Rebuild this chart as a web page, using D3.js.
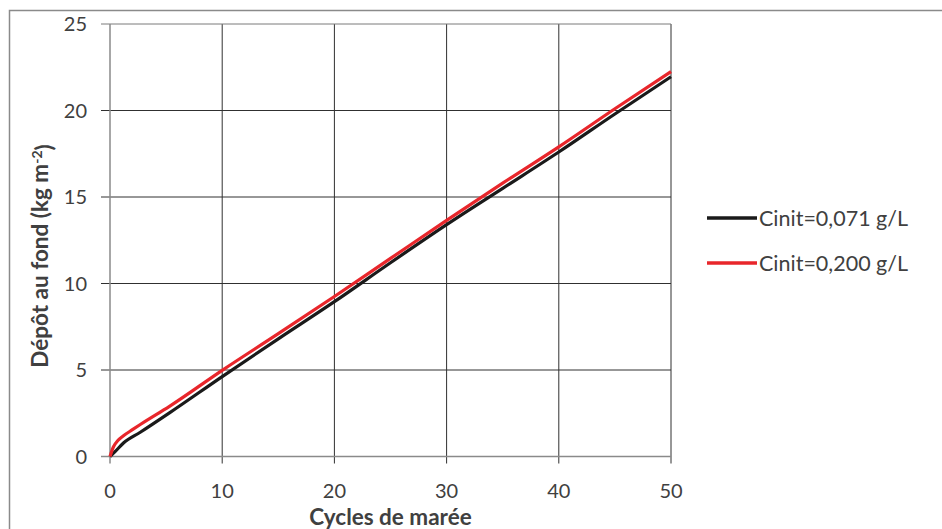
<!DOCTYPE html>
<html>
<head>
<meta charset="utf-8">
<script src="https://cdn.jsdelivr.net/npm/d3@7"></script>
<style>
  body { margin: 0; background: #fff; }
  text { font-family: Lato, "Open Sans", sans-serif; fill: #404040; }
</style>
</head>
<body>
<script>
// valeurs (cycles de marée -> dépôt kg m-2)
const cycles071 = [0, 0.45, 1.2, 2.7, 5.3, 10, 15, 20, 25, 30, 35, 40, 45, 50];
const depot071  = [0, 0.28, 0.78, 1.4, 2.52, 4.62, 6.8, 8.95, 11.2, 13.4, 15.5, 17.6, 19.8, 21.95];

const cycles200 = [0, 0.3, 0.7, 1.2, 2, 2.7, 5.3, 10, 15, 20, 25, 30, 35, 40, 45, 50];
const depot200  = [0, 0.55, 0.92, 1.2, 1.55, 1.85, 2.9, 4.98, 7.1, 9.25, 11.45, 13.65, 15.8, 17.9, 20.1, 22.25];

const seriesNames = ["Cinit=0,071 g/L", "Cinit=0,200 g/L"];
const seriesColors = ["#1a1a1a", "#e8262b"];
const xTicks = [0, 10, 20, 30, 40, 50];
const yTicks = [0, 5, 10, 15, 20, 25];

const width = 942, height = 529;
const plotLeft = 110, plotRight = 671, plotTop = 24, plotBottom = 456.5;

const svg = d3.select("body").append("svg")
  .attr("width", width)
  .attr("height", height);

// cadre extérieur
svg.append("rect")
  .attr("x", 9.5).attr("y", 10.5)
  .attr("width", 1000).attr("height", 600)
  .attr("fill", "none")
  .attr("stroke", "#8a8a8a")
  .attr("stroke-width", 1.5);

const x = d3.scaleLinear().domain([0, 50]).range([plotLeft, plotRight]);
const y = d3.scaleLinear().domain([0, 25]).range([plotBottom, plotTop]);

// grille
svg.append("g").selectAll("line")
  .data(xTicks.slice(1))
  .enter().append("line")
  .attr("x1", d => x(d)).attr("x2", d => x(d))
  .attr("y1", plotTop).attr("y2", plotBottom + 7)
  .attr("stroke", "#303030").attr("stroke-width", 1);

svg.append("g").selectAll("line")
  .data(yTicks.slice(1))
  .enter().append("line")
  .attr("x1", plotLeft - 9).attr("x2", plotRight)
  .attr("y1", d => y(d)).attr("y2", d => y(d))
  .attr("stroke", d => d === 25 ? "#7a7a7a" : "#303030").attr("stroke-width", 1);

// axes
svg.append("line")
  .attr("x1", plotLeft).attr("x2", plotLeft).attr("y1", plotTop).attr("y2", plotBottom + 7)
  .attr("stroke", "#8a8a8a").attr("stroke-width", 1.5);
svg.append("line")
  .attr("x1", plotLeft - 9).attr("x2", plotRight).attr("y1", plotBottom).attr("y2", plotBottom)
  .attr("stroke", "#8a8a8a").attr("stroke-width", 1.5);

// étiquettes des graduations
svg.append("g").selectAll("text")
  .data(yTicks)
  .enter().append("text")
  .attr("x", 87).attr("y", d => y(d))
  .attr("dy", "0.36em")
  .attr("text-anchor", "end")
  .style("font-size", "20px")
  .text(d => d);

svg.append("g").selectAll("text")
  .data(xTicks)
  .enter().append("text")
  .attr("x", d => x(d)).attr("y", 498)
  .attr("text-anchor", "middle")
  .style("font-size", "20px")
  .text(d => d);

// titres des axes
svg.append("text")
  .attr("x", (plotLeft + plotRight) / 2).attr("y", 525)
  .attr("text-anchor", "middle")
  .style("font-size", "22.5px").style("font-weight", "bold")
  .text("Cycles de marée");

const yTitle = svg.append("text")
  .attr("transform", "translate(48," + 256 + ") rotate(-90)")
  .attr("text-anchor", "middle")
  .style("font-size", "22.5px").style("font-weight", "bold");
yTitle.append("tspan").text("Dépôt au fond (kg m");
yTitle.append("tspan").attr("dy", "-0.45em").style("font-size", "14px").text("-2");
yTitle.append("tspan").attr("dy", "0.45em").text(")");

// courbes
const line = d3.line()
  .x(d => x(d[0])).y(d => y(d[1]))
  .curve(d3.curveMonotoneX);
const data = [
  cycles071.map((c, i) => [c, depot071[i]]),
  cycles200.map((c, i) => [c, depot200[i]])
];

svg.append("g").selectAll("path")
  .data(data)
  .enter().append("path")
  .attr("d", line)
  .attr("fill", "none")
  .attr("stroke", (d, i) => seriesColors[i])
  .attr("stroke-width", 3.2)
  .attr("stroke-linejoin", "round");

// légende
const legend = svg.append("g").selectAll("g")
  .data(seriesNames)
  .enter().append("g")
  .attr("transform", (d, i) => "translate(0," + (218 + i * 45) + ")");

legend.append("line")
  .attr("x1", 707).attr("x2", 757)
  .attr("stroke", (d, i) => seriesColors[i])
  .attr("stroke-width", 3.5);

legend.append("text")
  .attr("x", 759).attr("dy", "0.36em")
  .style("font-size", "21.5px")
  .text(d => d);
</script>
</body>
</html>
